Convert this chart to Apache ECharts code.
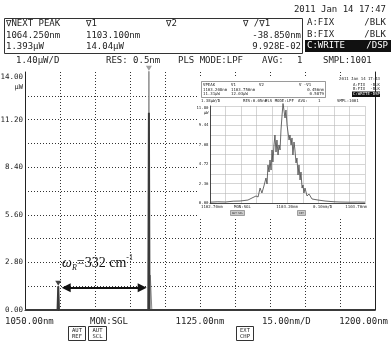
<!DOCTYPE html>
<html><head><meta charset="utf-8">
<script src="https://cdn.jsdelivr.net/npm/echarts@6/dist/echarts.min.js"></script>
<style>html,body{margin:0;padding:0;background:#fff}#c{width:391px;height:343px}</style>
</head><body><div id="c"></div>
<script>
// ---------- main spectrum (wavelength nm / power uW) ----------
const traceWl  = [1050, 1063.95, 1064.25, 1064.55, 1102.85, 1103.1, 1103.35, 1103.55, 1103.7, 1104.2, 1104.35, 1200];
const traceCPw = [0, 0, 1.393, 0, 0, 14.04, 0, 0, 2.05, 2.05, 0, 0];   // gray trace
const traceAPw = [0, 0, 1.393, 0, 0, 11.6, 0, 0, 0, 0, 0, 0];          // dark trace
const markerWl = [1064.25, 1103.1];
const markerPw = [1.393, 14.04];
const arrowSpan = [1067.66, 1100.23];
const arrowLevel = 1.31;
const yTickLabels = ['0.00', '2.80', '5.60', '8.40', '11.20', '14.00'];
const xTickLabels = ['1050.00nm', '1125.00nm', '1200.00nm'];

// ---------- inset spectrum ----------
const insetWl = [1102.700,1102.750,1102.800,1102.850,1102.894,1102.945,1102.971,1102.997,1103.010,1103.023,1103.035,1103.048,1103.061,1103.068,1103.074,1103.081,1103.087,1103.094,1103.100,1103.106,1103.113,1103.119,1103.126,1103.132,1103.139,1103.145,1103.152,1103.158,1103.165,1103.171,1103.177,1103.184,1103.190,1103.197,1103.203,1103.210,1103.216,1103.223,1103.229,1103.235,1103.242,1103.248,1103.255,1103.261,1103.268,1103.274,1103.281,1103.287,1103.294,1103.300,1103.306,1103.313,1103.326,1103.339,1103.358,1103.397,1103.442,1103.500,1103.539,1103.600,1103.650,1103.700];
const insetPw = [0.10,0.15,0.12,0.22,0.24,0.36,0.61,0.85,0.73,1.82,1.22,2.07,3.04,2.31,4.62,3.77,5.23,4.01,6.45,4.99,7.06,8.27,6.20,7.66,5.84,7.06,6.45,8.88,10.71,12.10,11.31,10.34,11.31,9.49,8.64,7.66,8.27,7.06,7.91,5.84,7.42,6.45,4.87,5.47,3.41,4.62,2.80,3.77,1.82,2.19,1.22,1.82,0.85,1.09,0.49,0.36,0.24,0.15,0.12,0.10,0.12,0.10];
const insetYTickLabels = ['0.00', '2.36', '4.72', '7.08', '9.44', '11.80'];
const insetXTickLabels = ['1102.70nm', '1103.20nm', '1103.70nm'];

const MONO = 'DejaVu Sans Mono';
const SERIF = 'Liberation Serif';
const INK = '#222';

function T(x, y, s, o) {
  o = o || {};
  const align = o.align || 'left';
  return {
    type: 'text', x: x, y: y, z: o.z || 10, silent: true,
    style: {
      text: s, fontFamily: o.family || MONO, fontSize: o.size || 9,
      fill: o.fill || INK, align: align, textAlign: align,
      verticalAlign: 'middle', textVerticalAlign: 'middle'
    }
  };
}
function R(x, y, w, h, o) {
  o = o || {};
  return {
    type: 'rect', z: o.z || 9, silent: true,
    shape: { x: x, y: y, width: w, height: h },
    style: { fill: o.fill || 'none', stroke: o.stroke || null, lineWidth: o.lw || 1 }
  };
}

const g = [];
// header
g.push(T(386, 10, '2011 Jan 14 17:47', { align: 'right' }));
g.push(R(4.5, 18.5, 298, 35, { stroke: '#333' }));
g.push(T(6, 24, '\u2207NEXT PEAK'), T(86, 24, '\u22071'), T(166, 24, '\u22072'), T(243, 24, '\u2207 /\u22071'));
g.push(T(6, 35.5, '1064.250nm'), T(86, 35.5, '1103.100nm'), T(301, 35.5, '-38.850nm', { align: 'right' }));
g.push(T(6, 47, '1.393\u03bcW'), T(86, 47, '14.04\u03bcW'), T(301, 47, '9.928E-02', { align: 'right' }));
g.push(T(307, 23, 'A:FIX'), T(386, 23, '/BLK', { align: 'right' }));
g.push(T(307, 35, 'B:FIX'), T(386, 35, '/BLK', { align: 'right' }));
g.push(R(305, 40, 86, 12, { fill: '#111' }));
g.push(T(307, 46, 'C:WRITE', { fill: '#fff' }), T(388, 46, '/DSP', { align: 'right', fill: '#fff' }));
g.push(T(16, 61, '1.40\u03bcW/D'), T(106, 61, 'RES: 0.5nm'), T(178, 61, 'PLS MODE:LPF'),
       T(262, 61, 'AVG:'), T(297, 61, '1'), T(323, 61, 'SMPL:1001'));
// bottom
g.push(T(5, 322, xTickLabels[0]), T(90, 322, 'MON:SGL'), T(200, 322, xTickLabels[1], { align: 'center' }),
       T(262, 322, '15.00nm/D'), T(388, 322, xTickLabels[2], { align: 'right' }));
[[68.5, 17, 'AUT', 'REF'], [88.5, 18, 'AUT', 'SCL'], [236.5, 17, 'EXT', 'CHP']].forEach(function (b) {
  g.push(R(b[0], 326.5, b[1], 14, { stroke: '#333' }));
  g.push(T(b[0] + b[1] / 2, 330.5, b[2], { align: 'center', size: 5.5 }));
  g.push(T(b[0] + b[1] / 2, 336.8, b[3], { align: 'center', size: 5.5 }));
});
// annotation
g.push({
  type: 'text', x: 62, y: 263, z: 10, silent: true,
  style: {
    text: '{w|\u03c9}{s|R}{n|=332 cm}{p|-1}', fill: '#111',
    verticalAlign: 'middle', textVerticalAlign: 'middle',
    rich: {
      w: { fontFamily: SERIF, fontStyle: 'italic', fontSize: 14, lineHeight: 18, fill: '#111' },
      s: { fontFamily: SERIF, fontStyle: 'italic', fontSize: 8, lineHeight: 10, verticalAlign: 'bottom', fill: '#111' },
      n: { fontFamily: SERIF, fontSize: 14, lineHeight: 18, fill: '#111' },
      p: { fontFamily: SERIF, fontSize: 8, lineHeight: 10, verticalAlign: 'top', fill: '#111' }
    }
  }
});
// inset background & texts
g.push(R(197, 77, 177, 140, { fill: '#fff', z: 1 }));
const s4 = { size: 4 };
g.push(T(380, 79, '2011 Jan 14 17:43', { align: 'right', size: 4 }));
g.push(R(201.5, 81.5, 124, 16, { stroke: '#555', lw: 0.6 }));
g.push(T(203, 85, '\u2207PEAK', s4), T(231, 85, '\u22071', s4), T(259, 85, '\u22072', s4), T(299, 85, '\u2207 -\u22071', s4));
g.push(T(203, 89.5, '1103.208nm', s4), T(231, 89.5, '1103.750nm', s4), T(324, 89.5, '0.456nm', { align: 'right', size: 4 }));
g.push(T(203, 94, '11.31\u03bcW', s4), T(231, 94, '12.03\u03bcW', s4), T(324, 94, '0.5879', { align: 'right', size: 4 }));
g.push(T(353, 84.5, 'A:FIX', s4), T(380, 84.5, '-BLK', { align: 'right', size: 4 }));
g.push(T(353, 89, 'B:FIX', s4), T(380, 89, '-BLK', { align: 'right', size: 4 }));
g.push(R(352, 91.5, 28, 5.5, { fill: '#111' }));
g.push(T(353, 94.2, 'C:WRITE', { size: 4, fill: '#fff' }), T(380, 94.2, '-DSP', { align: 'right', size: 4, fill: '#fff' }));
g.push(T(201, 101, '1.38\u03bcW/D', s4), T(243, 101, 'RES:0.05nm', s4), T(265, 101, 'PLS MODE:LPF', s4),
       T(298, 101, 'AVG:', s4), T(318, 101, '1', s4), T(337, 101, 'SMPL:1001', s4));
g.push(T(201, 207, insetXTickLabels[0], s4), T(234, 207, 'MON:SGL', s4), T(287, 207, insetXTickLabels[1], { align: 'center', size: 4 }),
       T(313, 207, '0.10nm/D', s4), T(367, 207, insetXTickLabels[2], { align: 'right', size: 4 }));
g.push(R(230.5, 210.5, 14, 5, { fill: '#ccc', stroke: '#555', lw: 0.5 }), T(237.5, 213, 'AUT SCL', { align: 'center', size: 2.6 }));
g.push(R(297.5, 210.5, 8, 5, { fill: '#ccc', stroke: '#555', lw: 0.5 }), T(301.5, 213, 'EXT', { align: 'center', size: 2.6 }));

function zip(a, b) { return a.map(function (v, i) { return [v, b[i]]; }); }

const dotted = { color: '#333', width: 1, type: [1, 2] };

const chart = echarts.init(document.getElementById('c'), null, { renderer: 'canvas' });
chart.setOption({
  animation: false,
  backgroundColor: '#fff',
  grid: [
    { left: 25, top: 72, width: 350, height: 238, containLabel: false, outerBoundsMode: 'none' },
    { left: 210, top: 106, width: 155, height: 97, containLabel: false, outerBoundsMode: 'none' }
  ],
  xAxis: [
    {
      gridIndex: 0, type: 'value', min: 1050, max: 1200, interval: 15,
      axisLine: { show: true, lineStyle: { color: '#222', width: 1 } },
      axisTick: { show: false }, axisLabel: { show: false },
      splitLine: { show: true, showMinLine: false, showMaxLine: false, lineStyle: dotted }
    },
    {
      gridIndex: 1, type: 'value', min: 1102.7, max: 1103.7, interval: 0.1, z: 3,
      axisLine: { show: true, lineStyle: { color: '#222', width: 0.8 } },
      axisTick: { show: false }, axisLabel: { show: false },
      splitLine: { show: true, lineStyle: { color: '#b8b8b8', width: 0.6 } }
    }
  ],
  yAxis: [
    {
      gridIndex: 0, type: 'value', min: 0, max: 14, interval: 1.4,
      axisLine: { show: true, lineStyle: { color: '#222', width: 1 } },
      axisTick: { show: false },
      axisLabel: {
        margin: 2, fontFamily: MONO, fontSize: 7.5, color: INK,
        formatter: function (v) {
          const k = Math.round(v / 1.4);
          if (k % 2) return '';
          const lab = yTickLabels[k / 2];
          if (k === 10) return '{e| }\n{t|' + lab + '}\n{u|\u03bcW}';
          return '{t|' + lab + '}';
        },
        rich: {
          e: { lineHeight: 20, fontSize: 7 },
          t: { lineHeight: 10, fontFamily: MONO, fontSize: 7.5, color: INK, align: 'right' },
          u: { lineHeight: 10, fontFamily: MONO, fontSize: 7, color: INK, align: 'right' }
        }
      },
      splitLine: { show: true, showMinLine: false, showMaxLine: false, lineStyle: dotted }
    },
    {
      gridIndex: 0, type: 'value', position: 'right', min: 0, max: 14, interval: 1.4,
      axisLine: { show: true, lineStyle: { color: '#222', width: 1 } },
      axisTick: { show: false }, axisLabel: { show: false }, splitLine: { show: false }
    },
    {
      gridIndex: 1, type: 'value', min: 0, max: 11.8, interval: 1.18, z: 3,
      axisLine: { show: true, lineStyle: { color: '#222', width: 0.8 } },
      axisTick: { show: false },
      axisLabel: {
        margin: 1.5, fontFamily: MONO, fontSize: 4, color: INK,
        formatter: function (v) {
          const k = Math.round(v / 1.18);
          if (k % 2) return '';
          const lab = insetYTickLabels[k / 2];
          if (k === 10) return '{e| }\n{t|' + lab + '}\n{u|\u03bcW}';
          return '{t|' + lab + '}';
        },
        rich: {
          e: { lineHeight: 9, fontSize: 4 },
          t: { lineHeight: 4.5, fontFamily: MONO, fontSize: 4, color: INK, align: 'right' },
          u: { lineHeight: 4.5, fontFamily: MONO, fontSize: 4, color: INK, align: 'right' }
        }
      },
      splitLine: { show: true, lineStyle: { color: '#b8b8b8', width: 0.6 } }
    }
  ],
  graphic: { elements: g },
  series: [
    {
      type: 'line', xAxisIndex: 0, yAxisIndex: 0, data: zip(traceWl, traceCPw),
      symbol: 'none', clip: false, z: 2, silent: true,
      lineStyle: { color: '#8a8a8a', width: 1 }
    },
    {
      type: 'line', xAxisIndex: 0, yAxisIndex: 0, data: zip(traceWl, traceAPw),
      symbol: 'none', clip: false, z: 3, silent: true,
      lineStyle: { color: '#3a3a3a', width: 2 },
      markLine: {
        silent: true, symbol: ['triangle', 'triangle'], symbolSize: [9, 9],
        label: { show: false },
        lineStyle: { color: '#111', width: 2, type: 'solid' },
        data: [[{ coord: [arrowSpan[0], arrowLevel] }, { coord: [arrowSpan[1], arrowLevel] }]]
      }
    },
    {
      type: 'scatter', xAxisIndex: 0, yAxisIndex: 0, clip: false, z: 4, silent: true,
      symbol: 'triangle', symbolRotate: 180, symbolSize: [6, 5], symbolOffset: [0, -3],
      data: [
        { value: [markerWl[0], markerPw[0]], itemStyle: { color: '#111' } },
        { value: [markerWl[1], markerPw[1]], itemStyle: { color: '#888' } }
      ]
    },
    {
      type: 'line', xAxisIndex: 1, yAxisIndex: 2, data: zip(insetWl, insetPw),
      symbol: 'none', clip: false, z: 6, silent: true,
      lineStyle: { color: '#444', width: 0.8 }
    }
  ]
});
</script>
</body></html>
